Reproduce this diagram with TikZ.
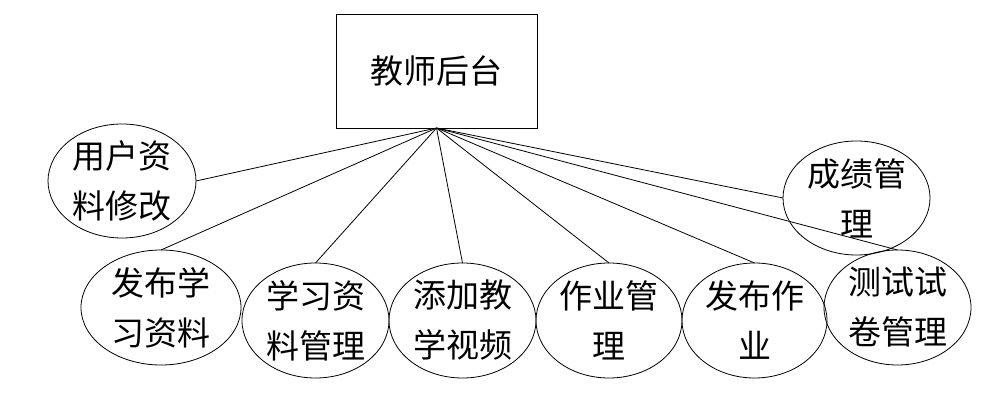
\documentclass[tikz,border=0pt]{standalone}
\usepackage{fontspec}
\newfontfamily\cjk{Noto Sans CJK SC}
\usetikzlibrary{shapes.geometric}
\begin{document}
\begin{tikzpicture}[x=1pt,y=-1pt,
  oval/.style={ellipse,draw,line width=0.8pt,inner sep=0pt,outer sep=0pt,minimum width=147pt,minimum height=115pt},
  txt/.style={font=\cjk\fontsize{33}{50}\selectfont,align=center,inner sep=0pt},
  link/.style={draw,line width=0.8pt}]
\useasboundingbox (0,0) rectangle (981,419);
\node[draw,line width=0.8pt,minimum width=201pt,minimum height=114pt,outer sep=0pt,txt] (top) at (436.5,71) {教师后台};
\node[oval,minimum width=148pt,minimum height=114pt,label={[txt]center:用户资\\料修改}] (e1) at (122,181) {};
\node[oval,minimum height=114pt,label={[txt]center:成绩管\\理}] (e2) at (856.5,198) {};
\node[oval,minimum width=160pt,label={[txt]center:发布学\\习资料}] (e3) at (161,307.5) {};
\node[oval,label={[txt]center:学习资\\料管理}] (e4) at (315.5,320.5) {};
\node[oval,label={[txt]center:添加教\\学视频}] (e5) at (462.5,320.5) {};
\node[oval,minimum width=146pt,label={[txt]center:作业管\\理}] (e6) at (609,320.5) {};
\node[oval,minimum width=145pt,label={[txt]center:发布作\\业}] (e7) at (754.5,320.5) {};
\node[oval,label={[txt]center:测试试\\卷管理}] (e8) at (897.5,307.5) {};
\draw[link] (top.south) -- (e1.east);
\draw[link] (top.south) -- (e2.west);
\draw[link] (top.south) -- (e3.north);
\draw[link] (top.south) -- (e4.north);
\draw[link] (top.south) -- (e5.north);
\draw[link] (top.south) -- (e6.north);
\draw[link] (top.south) -- (e7.north);
\draw[link] (top.south) -- (e8.north);
\end{tikzpicture}
\end{document}
